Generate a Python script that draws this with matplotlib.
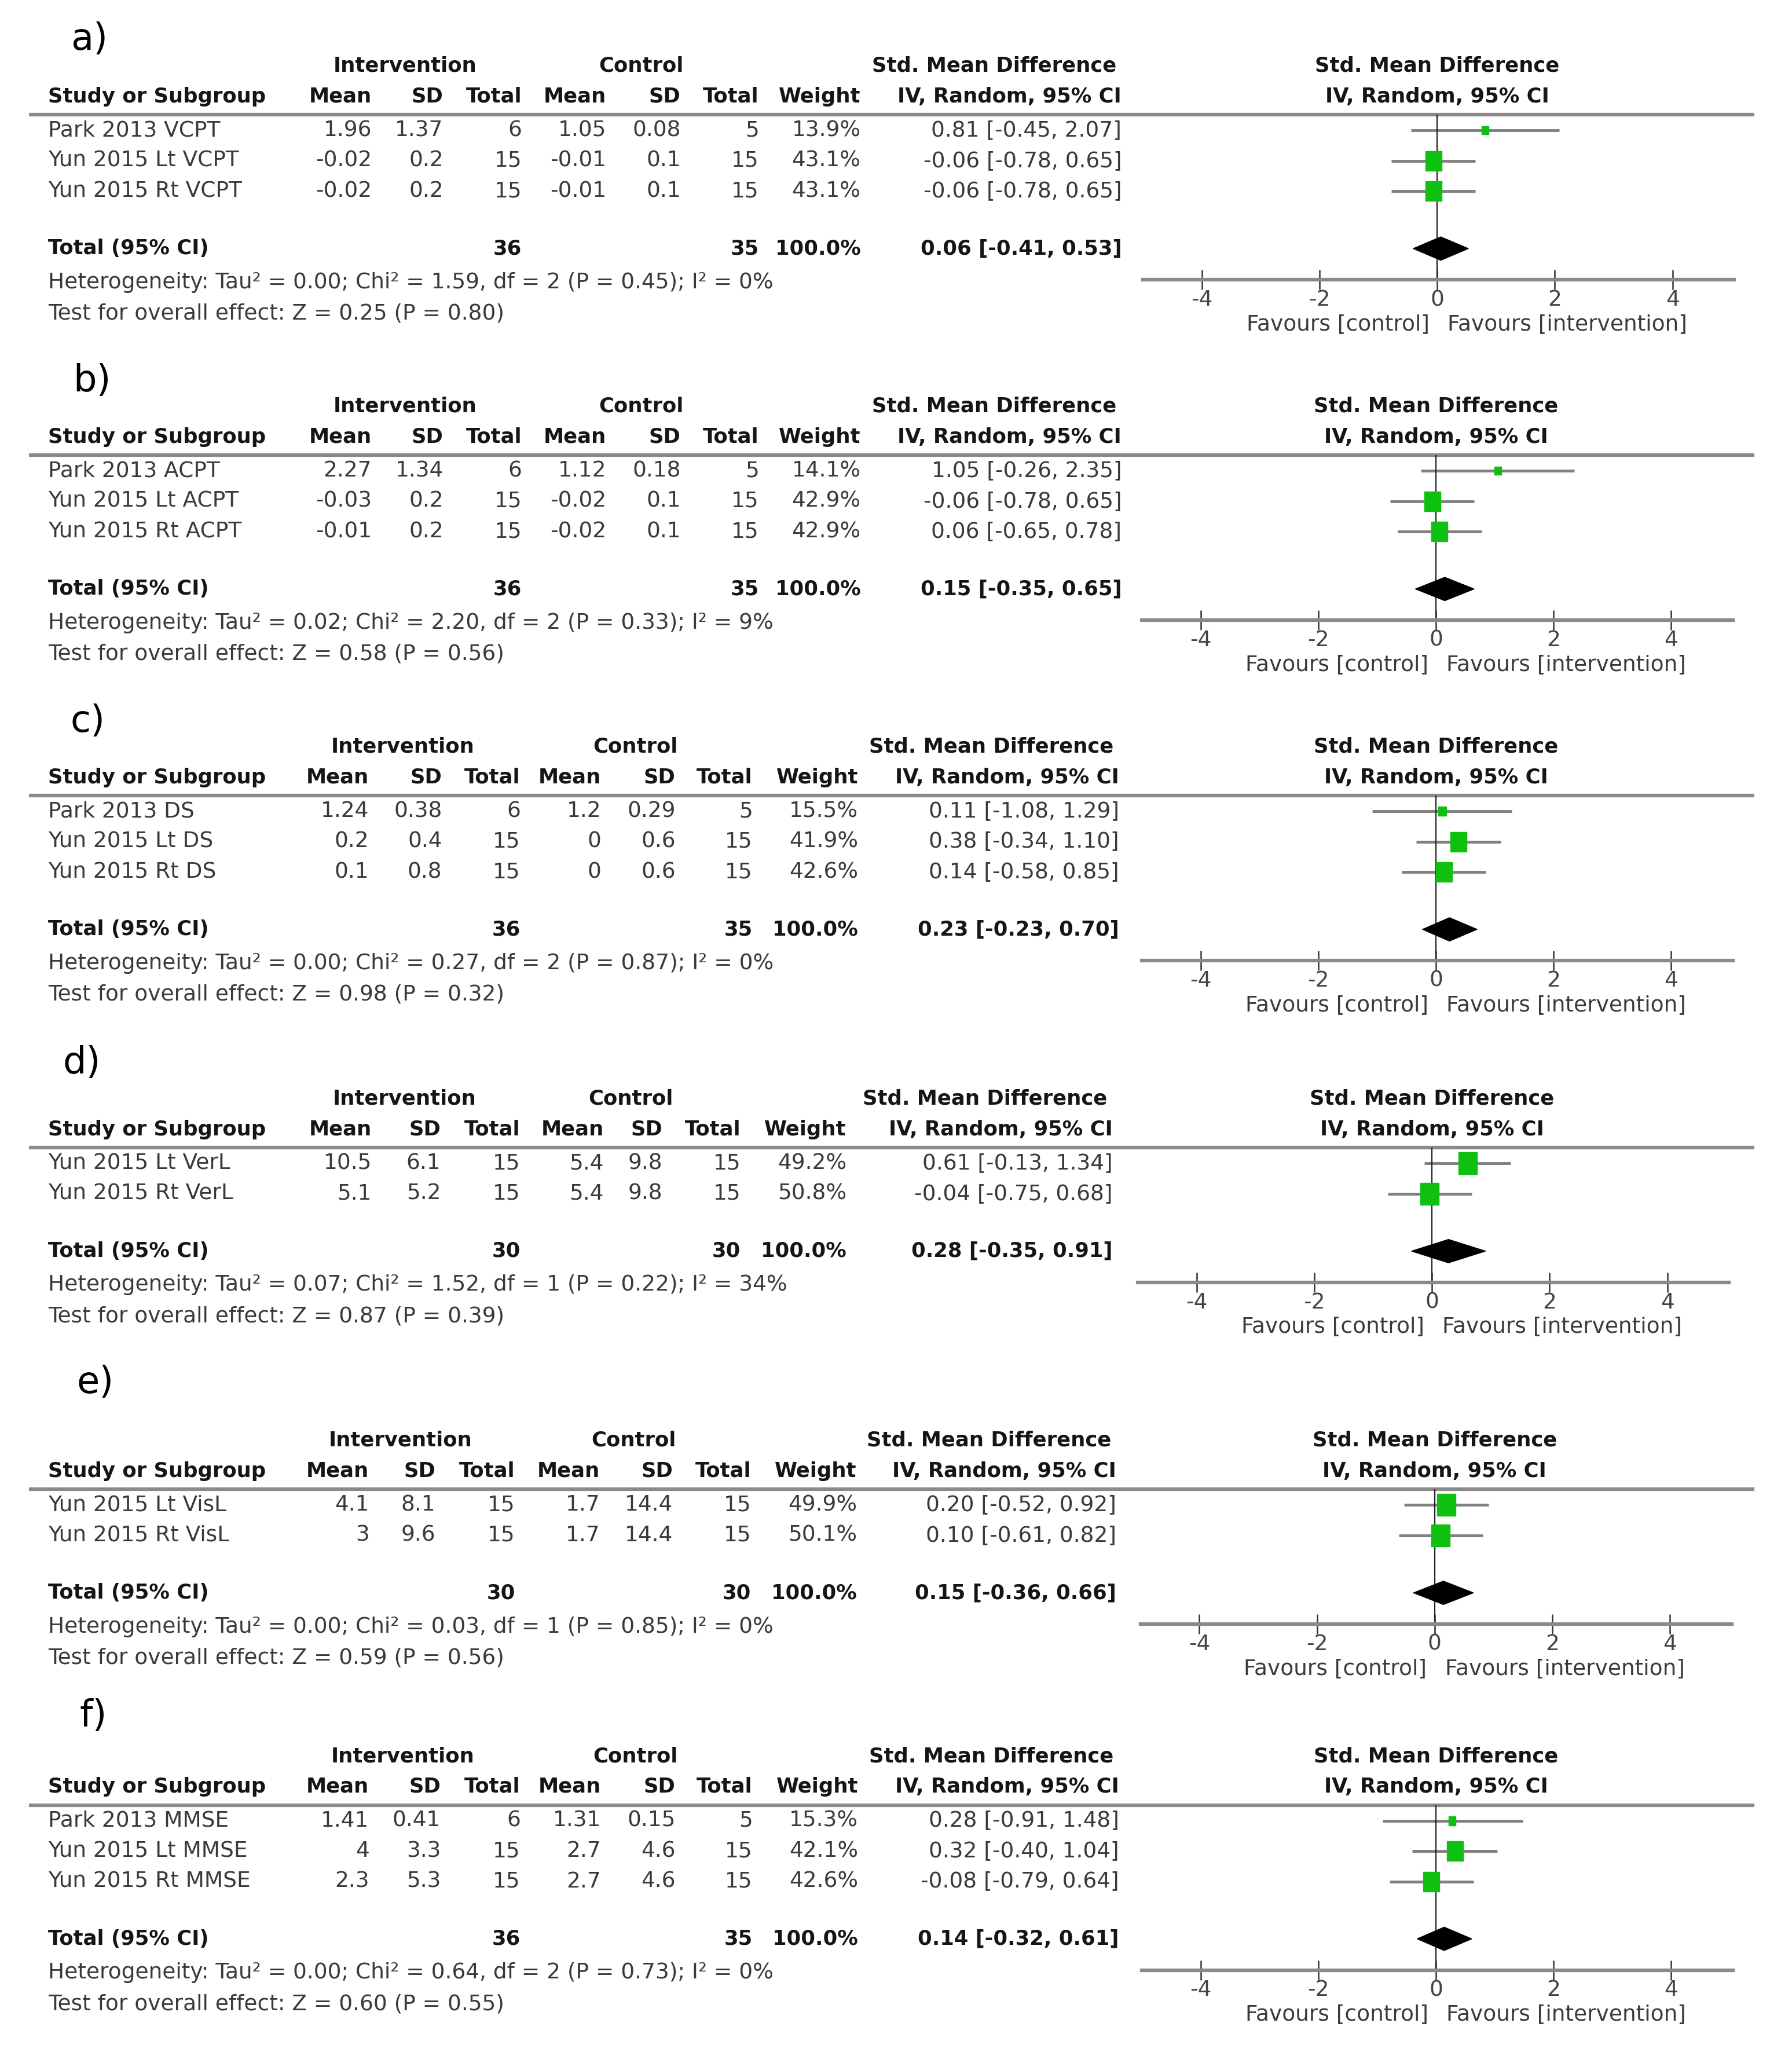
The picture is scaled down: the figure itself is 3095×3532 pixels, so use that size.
import matplotlib

matplotlib.use("Agg")
import matplotlib.pyplot as plt
from matplotlib.path import Path

plt.rcParams["font.family"] = "DejaVu Sans"
plt.rcParams["axes.unicode_minus"] = False

# ---- data (one entry per panel a) .. f))
LABELS = ["a)", "b)", "c)", "d)", "e)", "f)"]
STUDIES = [
    ["Park 2013 VCPT", "Yun 2015 Lt VCPT", "Yun 2015 Rt VCPT"],
    ["Park 2013 ACPT", "Yun 2015 Lt ACPT", "Yun 2015 Rt ACPT"],
    ["Park 2013 DS", "Yun 2015 Lt DS", "Yun 2015 Rt DS"],
    ["Yun 2015 Lt VerL", "Yun 2015 Rt VerL"],
    ["Yun 2015 Lt VisL", "Yun 2015 Rt VisL"],
    ["Park 2013 MMSE", "Yun 2015 Lt MMSE", "Yun 2015 Rt MMSE"],
]
INT_MEAN = [["1.96", "-0.02", "-0.02"], ["2.27", "-0.03", "-0.01"],
            ["1.24", "0.2", "0.1"], ["10.5", "5.1"], ["4.1", "3"],
            ["1.41", "4", "2.3"]]
INT_SD = [["1.37", "0.2", "0.2"], ["1.34", "0.2", "0.2"],
          ["0.38", "0.4", "0.8"], ["6.1", "5.2"], ["8.1", "9.6"],
          ["0.41", "3.3", "5.3"]]
INT_N = [[6, 15, 15], [6, 15, 15], [6, 15, 15], [15, 15], [15, 15],
         [6, 15, 15]]
CTL_MEAN = [["1.05", "-0.01", "-0.01"], ["1.12", "-0.02", "-0.02"],
            ["1.2", "0", "0"], ["5.4", "5.4"], ["1.7", "1.7"],
            ["1.31", "2.7", "2.7"]]
CTL_SD = [["0.08", "0.1", "0.1"], ["0.18", "0.1", "0.1"],
          ["0.29", "0.6", "0.6"], ["9.8", "9.8"], ["14.4", "14.4"],
          ["0.15", "4.6", "4.6"]]
CTL_N = [[5, 15, 15], [5, 15, 15], [5, 15, 15], [15, 15], [15, 15],
         [5, 15, 15]]
WEIGHT = [[13.9, 43.1, 43.1], [14.1, 42.9, 42.9], [15.5, 41.9, 42.6],
          [49.2, 50.8], [49.9, 50.1], [15.3, 42.1, 42.6]]
SMD = [[0.81, -0.06, -0.06], [1.05, -0.06, 0.06], [0.11, 0.38, 0.14],
       [0.61, -0.04], [0.20, 0.10], [0.28, 0.32, -0.08]]
CI_LO = [[-0.45, -0.78, -0.78], [-0.26, -0.78, -0.65], [-1.08, -0.34, -0.58],
         [-0.13, -0.75], [-0.52, -0.61], [-0.91, -0.40, -0.79]]
CI_HI = [[2.07, 0.65, 0.65], [2.35, 0.65, 0.78], [1.29, 1.10, 0.85],
         [1.34, 0.68], [0.92, 0.82], [1.48, 1.04, 0.64]]
TOT_INT = [36, 36, 36, 30, 30, 36]
TOT_CTL = [35, 35, 35, 30, 30, 35]
TOT_WEIGHT = [100.0, 100.0, 100.0, 100.0, 100.0, 100.0]
TOT_SMD = [0.06, 0.15, 0.23, 0.28, 0.15, 0.14]
TOT_LO = [-0.41, -0.35, -0.23, -0.35, -0.36, -0.32]
TOT_HI = [0.53, 0.65, 0.70, 0.91, 0.66, 0.61]
TAU2 = ["0.00", "0.02", "0.00", "0.07", "0.00", "0.00"]
CHI2 = ["1.59", "2.20", "0.27", "1.52", "0.03", "0.64"]
DF = [2, 2, 2, 1, 1, 2]
P_HET = ["0.45", "0.33", "0.87", "0.22", "0.85", "0.73"]
I2 = ["0%", "9%", "0%", "34%", "0%", "0%"]
Z = ["0.25", "0.58", "0.98", "0.87", "0.59", "0.60"]
P_Z = ["0.80", "0.56", "0.32", "0.39", "0.56", "0.55"]
TICKS = [-4, -2, 0, 2, 4]
XLIM = (-5.0, 5.05)

# ---- layout, in px of a 1374 x 1568 grid
W, H = 1374, 1568
HEAD_Y = [74, 335, 596, 866, 1128, 1370]          # column-header row
LABEL_XY = [(54, 30), (56, 292), (54, 553), (48, 815), (59, 1060), (61, 1316)]
COLS = [[285, 340, 400, 465, 522, 582, 660, 860],
        [285, 340, 400, 465, 522, 582, 660, 860],
        [283, 339, 399, 461, 518, 577, 658, 858],
        [285, 338, 399, 463, 508, 568, 649, 853],
        [283, 334, 395, 460, 516, 576, 657, 856],
        [283, 338, 399, 461, 518, 577, 658, 858]]
ZERO_X = [1102, 1101, 1101, 1098, 1100, 1101]
UNIT = 45.1      # px per SMD unit
ROW = 23.3
FS, FSB, FL = 27, 25.5, 46
C_TXT, C_HEAD, C_GRAY = "#3a3a3a", "#151515", "#8a8a8a"
GREEN = "#10c010"
BOX = Path([(-1, -1.2), (1, -1.2), (1, 1.2), (-1, 1.2), (-1, -1.2)],
           [Path.MOVETO, Path.LINETO, Path.LINETO, Path.LINETO, Path.CLOSEPOLY])

fig = plt.figure(figsize=(30.95, 35.32), dpi=100)
bg = fig.add_axes([0, 0, 1, 1])
bg.set_xlim(0, W)
bg.set_ylim(H, 0)
bg.axis("off")


def txt(x, y, s, ha="left", bold=False, size=None, color=None):
    if size is None:
        size = FSB if bold else FS
    if color is None:
        color = C_HEAD if bold else C_TXT
    bg.text(x, y, s, ha=ha, va="center", fontsize=size, color=color,
            fontweight="bold" if bold else "normal")


for p in range(len(LABELS)):
    y0, cols, zx = HEAD_Y[p], COLS[p], ZERO_X[p]
    n = len(STUDIES[p])
    rows = [y0 + 26 + ROW * i for i in range(n)]
    ty = rows[-1] + 44
    line_y, axis_y = y0 + 14, ty + 24

    txt(*LABEL_XY[p], LABELS[p], size=FL, color="black")

    # headers
    gy = y0 - 23.5
    txt((cols[0] + cols[2]) / 2 - 32, gy, "Intervention", "center", True)
    txt((cols[3] + cols[5]) / 2 - 32, gy, "Control", "center", True)
    txt(cols[7] - 4, gy, "Std. Mean Difference", "right", True)
    txt(zx, gy, "Std. Mean Difference", "center", True)
    txt(37, y0, "Study or Subgroup", bold=True)
    for x, s in zip(cols, ["Mean", "SD", "Total", "Mean", "SD", "Total",
                           "Weight", "IV, Random, 95% CI"]):
        txt(x, y0, s, "right", True)
    txt(zx, y0, "IV, Random, 95% CI", "center", True)
    bg.plot([22, 1345], [line_y, line_y], color=C_GRAY, lw=4.5,
            solid_capstyle="butt")

    # study rows
    for i in range(n):
        y = rows[i]
        txt(37, y, STUDIES[p][i])
        vals = [INT_MEAN[p][i], INT_SD[p][i], str(INT_N[p][i]),
                CTL_MEAN[p][i], CTL_SD[p][i], str(CTL_N[p][i]),
                f"{WEIGHT[p][i]:.1f}%",
                f"{SMD[p][i]:.2f} [{CI_LO[p][i]:.2f}, {CI_HI[p][i]:.2f}]"]
        for x, s in zip(cols, vals):
            txt(x, y, s, "right")

    # total + stats
    txt(37, ty, "Total (95% CI)", bold=True)
    txt(cols[2], ty, str(TOT_INT[p]), "right", True)
    txt(cols[5], ty, str(TOT_CTL[p]), "right", True)
    txt(cols[6], ty, f"{TOT_WEIGHT[p]:.1f}%", "right", True)
    txt(cols[7], ty, f"{TOT_SMD[p]:.2f} [{TOT_LO[p]:.2f}, {TOT_HI[p]:.2f}]",
        "right", True)
    txt(37, ty + 26, f"Heterogeneity: Tau\u00b2 = {TAU2[p]}; Chi\u00b2 = {CHI2[p]}, "
        f"df = {DF[p]} (P = {P_HET[p]}); I\u00b2 = {I2[p]}")
    txt(37, ty + 50, f"Test for overall effect: Z = {Z[p]} (P = {P_Z[p]})")
    txt(zx - 6, axis_y + 34, "Favours [control]", "right")
    txt(zx + 8, axis_y + 34, "Favours [intervention]")

    # forest panel
    left = (zx + XLIM[0] * UNIT) / W
    right = (zx + XLIM[1] * UNIT) / W
    fa = fig.add_axes([left, 1 - axis_y / H, right - left, (axis_y - line_y) / H])
    fa.set_xlim(*XLIM)
    fa.set_ylim(axis_y, line_y)
    fa.patch.set_alpha(0)
    for s in ("top", "left", "right"):
        fa.spines[s].set_visible(False)
    fa.spines["bottom"].set_color(C_GRAY)
    fa.spines["bottom"].set_linewidth(4.5)
    fa.set_yticks([])
    fa.set_xticks(TICKS)
    fa.set_xticklabels([str(t) for t in TICKS])
    fa.tick_params(axis="x", direction="inout", length=24, width=1.8,
                   color="#333333", labelsize=FS, labelcolor="#444444", pad=0)

    for i in range(n):
        fa.plot([CI_LO[p][i], CI_HI[p][i]], [rows[i], rows[i]], color="#808080",
                lw=3.5, solid_capstyle="butt", zorder=1)
    fa.axvline(0, color="#222222", lw=1.6, zorder=2)
    for i in range(n):
        fa.plot(SMD[p][i], rows[i], marker=BOX, ls="none", color=GREEN,
                mec=GREEN, ms=1.45 * WEIGHT[p][i] ** 0.75, zorder=3)
    fa.fill([TOT_LO[p], TOT_SMD[p], TOT_HI[p], TOT_SMD[p]],
            [ty, ty - 9, ty, ty + 9], color="black", zorder=4)

fig.savefig("out.png", dpi=100)
